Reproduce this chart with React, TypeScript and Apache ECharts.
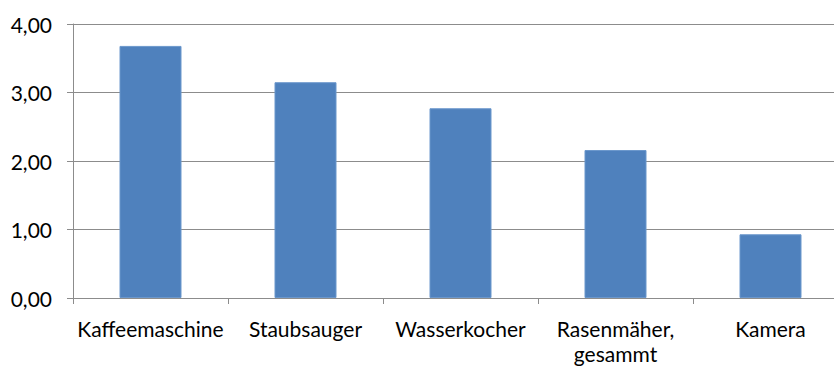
import React, { useEffect, useRef } from "react";
import * as echarts from "echarts";

const categories = ["Kaffeemaschine", "Staubsauger", "Wasserkocher", "Rasenmäher,\ngesammt", "Kamera"];
const values = [3.68, 3.15, 2.77, 2.16, 0.93];
const yTicks = { min: 0, max: 4, interval: 1 };

export default function App() {
  const ref = useRef<HTMLDivElement>(null);
  useEffect(() => {
    const chart = echarts.init(ref.current!, null, { renderer: "svg" });
    chart.setOption({
      animation: false,
      backgroundColor: "#ffffff",
      textStyle: { fontFamily: "Lato" },
      grid: { left: 73, top: 24, bottom: 69, right: 0, containLabel: false },
      xAxis: {
        type: "category",
        data: categories,
        boundaryGap: true,
        axisLine: { show: true, lineStyle: { color: "#8c8c8c", width: 1 } },
        axisTick: { show: true, length: 6, alignWithLabel: false, lineStyle: { color: "#8c8c8c" } },
        axisLabel: { color: "#000", fontSize: 21, fontFamily: "Lato", margin: 18, lineHeight: 25, interval: 0 },
      },
      yAxis: {
        type: "value",
        min: yTicks.min,
        max: yTicks.max,
        interval: yTicks.interval,
        axisLine: { show: true, lineStyle: { color: "#8c8c8c", width: 1 } },
        axisTick: { show: true, length: 6, lineStyle: { color: "#8c8c8c" } },
        splitLine: { show: true, lineStyle: { color: "#8c8c8c", width: 1 } },
        axisLabel: {
          color: "#000",
          fontSize: 21,
          fontFamily: "Lato",
          margin: 21,
          formatter: (v: number) => v.toFixed(2).replace(".", ","),
        },
      },
      series: [
        {
          type: "bar",
          data: values,
          barCategoryGap: "60%",
          itemStyle: { color: "#4F81BD", borderColor: "#6b97cc", borderWidth: 1 },
        },
      ],
    });
    return () => chart.dispose();
  }, []);
  return (
    <div style={{ position: "fixed", left: 0, top: 0, width: 834, height: 367, overflow: "hidden" }}>
      <div ref={ref} style={{ position: "absolute", left: 0, top: 0, width: 848, height: 367 }} />
    </div>
  );
}
